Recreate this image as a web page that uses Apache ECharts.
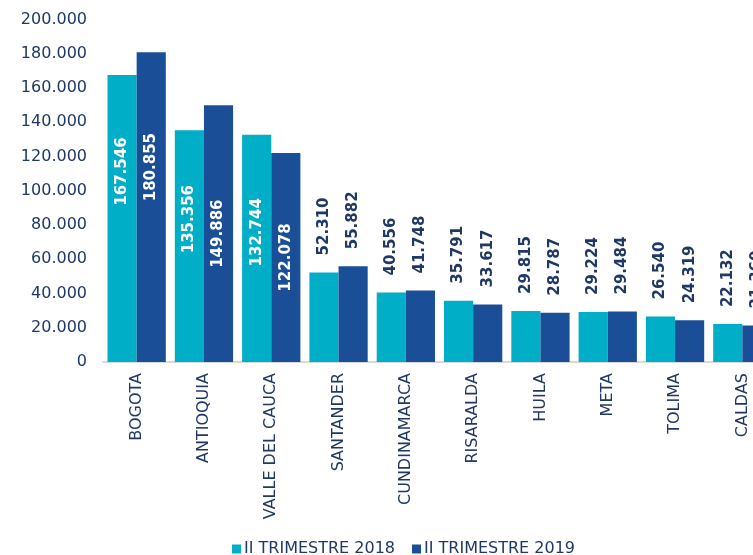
<!DOCTYPE html>
<html>
<head>
<meta charset="utf-8">
<script src="https://cdn.jsdelivr.net/npm/echarts@6/dist/echarts.min.js"></script>
<style>
html,body{margin:0;padding:0;background:#fff;}
#chart{width:753px;height:555px;}
</style>
</head>
<body>
<div id="chart"></div>
<script>
const categories = ['BOGOTA','ANTIOQUIA','VALLE DEL CAUCA','SANTANDER','CUNDINAMARCA','RISARALDA','HUILA','META','TOLIMA','CALDAS'];
const seriesNames = ['II TRIMESTRE 2018','II TRIMESTRE 2019'];
const values2018 = [167546,135356,132744,52310,40556,35791,29815,29224,26540,22132];
const values2019 = [180855,149886,122078,55882,41748,33617,28787,29484,24319,21360];
const yTicks = [0,20000,40000,60000,80000,100000,120000,140000,160000,180000,200000];

// label styling helpers (not data): upward shift of inside labels, px
const insideLift2018 = [47,27,16];
const insideLift2019 = [40,0,0];

const fmt = v => String(v).replace(/\B(?=(\d{3})+(?!\d))/g, '.');
const TEXT = '#1F3864';
const FONT = 'DejaVu Sans';

function buildData(vals, lifts) {
  return vals.map((v, i) => {
    if (v > 100000) {
      return {
        value: v,
        label: {
          position: 'inside', rotate: 90, align: 'center', verticalAlign: 'middle',
          color: '#fff', offset: [lifts[i] || 0, 0]
        }
      };
    }
    return { value: v };
  });
}

const chart = echarts.init(document.getElementById('chart'), null, {renderer: 'canvas'});
const baseLabel = {
  show: true, position: 'top', rotate: 90, align: 'left', verticalAlign: 'middle',
  distance: 17, color: TEXT, fontFamily: FONT, fontWeight: 'bold', fontSize: 15,
  formatter: p => fmt(p.value)
};
chart.setOption({
  animation: false,
  backgroundColor: '#fff',
  textStyle: { fontFamily: FONT },
  grid: { left: 103, top: 19.5, width: 673, height: 342.5, containLabel: false, outerBoundsMode: 'none' },
  legend: {
    data: seriesNames,
    left: 227, top: 536,
    icon: 'rect', itemWidth: 9, itemHeight: 9, itemGap: 17,
    textStyle: { color: TEXT, fontSize: 16, fontFamily: FONT, padding: [0,0,0,-2] }
  },
  xAxis: {
    type: 'category',
    data: categories,
    axisLine: { lineStyle: { color: '#D9D9D9', width: 2 } },
    axisTick: { show: false },
    axisLabel: { rotate: 90, color: TEXT, fontSize: 16, fontFamily: FONT, margin: 11, interval: 0 }
  },
  yAxis: {
    type: 'value',
    min: yTicks[0], max: yTicks[yTicks.length - 1], interval: yTicks[1] - yTicks[0],
    splitLine: { show: false },
    axisLine: { show: false },
    axisTick: { show: false },
    axisLabel: { color: TEXT, fontSize: 16, fontFamily: FONT, margin: 16, formatter: v => fmt(v) }
  },
  series: [
    {
      name: seriesNames[0], type: 'bar', data: buildData(values2018, insideLift2018),
      itemStyle: { color: '#00AEC7' }, barGap: '0%', barCategoryGap: '13.4%',
      label: baseLabel
    },
    {
      name: seriesNames[1], type: 'bar', data: buildData(values2019, insideLift2019),
      itemStyle: { color: '#1A4F98' }, barGap: '0%', barCategoryGap: '13.4%',
      label: baseLabel
    }
  ]
});
</script>
</body>
</html>
